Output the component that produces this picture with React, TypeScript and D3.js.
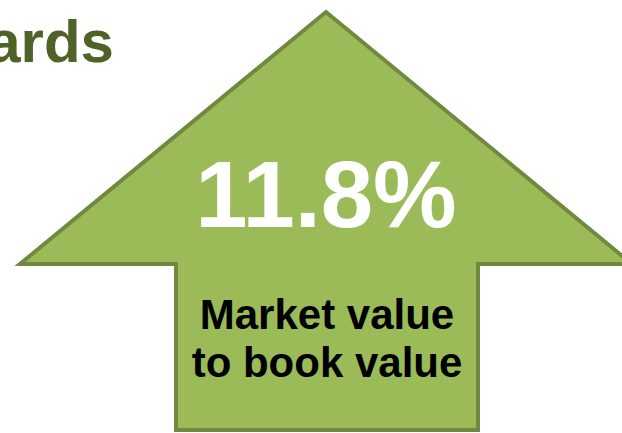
import React from "react";
import * as d3 from "d3";

const titleFragment = ["ards"];
const valueLabels = ["11.8%"];
const captionLines = ["Market value", "to book value"];

const W = 622;
const H = 433;

export default function App() {
  const apex: [number, number] = [326, 12];
  const wingY = 264;
  const leftTip: [number, number] = [20, wingY];
  const rightTip: [number, number] = [632, wingY];
  const shaftL = 176;
  const shaftR = 478;
  const bottom = 430;
  const pts: [number, number][] = [
    apex,
    rightTip,
    [shaftR, wingY],
    [shaftR, bottom],
    [shaftL, bottom],
    [shaftL, wingY],
    leftTip,
  ];
  const line = d3.line().curve(d3.curveLinearClosed);
  const d = line(pts) || "";
  const font = "'Liberation Sans', Arial, sans-serif";
  return (
    <div style={{ position: "fixed", left: 0, top: 0, width: W, height: H }}>
      <svg width={W} height={H} style={{ display: "block" }}>
        <rect width={W} height={H} fill="#ffffff" />
        <text
          x={114}
          y={62}
          textAnchor="end"
          fontFamily={font}
          fontWeight="bold"
          fontSize={60}
          fill="#4F6228"
        >
          {titleFragment[0]}
        </text>
        <path d={d} fill="#9BBB59" stroke="#71893F" strokeWidth={4} strokeLinejoin="miter" />
        <text
          x={326}
          y={227}
          textAnchor="middle"
          fontFamily={font}
          fontWeight="bold"
          fontSize={94}
          fill="#ffffff"
        >
          {valueLabels[0]}
        </text>
        {captionLines.map((t, i) => (
          <text
            key={t}
            x={327}
            y={329 + i * 48}
            textAnchor="middle"
            fontFamily={font}
            fontWeight="bold"
            fontSize={42}
            fill="#000000"
          >
            {t}
          </text>
        ))}
      </svg>
    </div>
  );
}
